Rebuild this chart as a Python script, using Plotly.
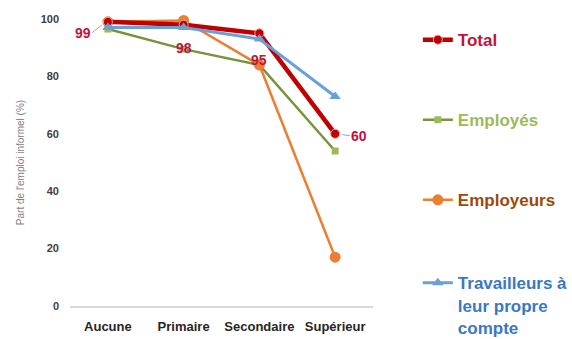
import plotly.graph_objects as go

# Niveau d'instruction
categories = ["Aucune", "Primaire", "Secondaire", "Supérieur"]

# Part de l'emploi informel (%) par statut
total = [99, 98, 95, 60]
employes = [96.5, 89.5, 84, 54]
employeurs = [99, 99.5, 84, 17]
travailleurs = [97, 97, 93, 73]

y_ticks = [0, 20, 40, 60, 80, 100]

RED = "#C00000"
RED_TXT = "#C0143C"
GREEN_LINE = "#77933C"
GREEN_MARK = "#9BBB59"
ORANGE = "#ED7D31"
BLUE = "#6A9FD8"

FONT = "Liberation Sans"

fig = go.Figure()

fig.add_trace(go.Scatter(
    x=categories, y=employes, mode="lines+markers",
    name="<span style='color:#9BBB59'>Employés</span>",
    line=dict(color=GREEN_LINE, width=2.5),
    marker=dict(symbol="square", size=7, color=GREEN_MARK),
    legend="legend2", cliponaxis=False,
))
fig.add_trace(go.Scatter(
    x=categories, y=employeurs, mode="lines+markers",
    name="<span style='color:#9E480E'>Employeurs</span>",
    line=dict(color=ORANGE, width=2.5),
    marker=dict(symbol="circle", size=11, color=ORANGE),
    legend="legend3", cliponaxis=False,
))
fig.add_trace(go.Scatter(
    x=categories, y=total, mode="lines+markers",
    name="<span style='color:#C0143C'>Total</span>",
    line=dict(color=RED, width=4.5),
    marker=dict(symbol="circle", size=9, color=RED,
                line=dict(color="#E8A0A0", width=1)),
    legend="legend", cliponaxis=False,
))
fig.add_trace(go.Scatter(
    x=categories, y=travailleurs, mode="lines+markers",
    name="<span style='color:#3A78C2'>Travailleurs à<br>leur propre<br>compte</span>",
    line=dict(color=BLUE, width=3),
    marker=dict(symbol="triangle-up", size=10, color=BLUE),
    legend="legend4", cliponaxis=False,
))

# Étiquettes de données de la série Total
label_offsets = [(-14, 11), (0, 14), (0, 18), (13, 2)]
for cat, val, (ax, ay) in zip(categories, total, label_offsets):
    leader = ax != 0
    fig.add_annotation(
        x=cat, y=val, text=f"<b>{val}</b>",
        showarrow=True, arrowhead=0, arrowwidth=1,
        arrowcolor="#A6A6A6" if leader else "rgba(0,0,0,0)",
        ax=ax, ay=ay, standoff=5 if leader else 0,
        font=dict(family=FONT, size=14, color=RED_TXT),
        xanchor="right" if ax < 0 else ("left" if ax > 0 else "center"),
        yanchor="middle" if leader else "top",
        xshift=-2 if ax < 0 else (2 if ax > 0 else 0),
        borderpad=0,
    )


def legend_box(y_top):
    return dict(
        x=1.148, y=y_top, xanchor="left", yanchor="top",
        font=dict(family=FONT, size=17, weight="bold"),
        valign="top", itemwidth=30, bgcolor="rgba(0,0,0,0)",
    )


fig.update_layout(
    width=572, height=339,
    margin=dict(l=70, r=199, t=19, b=33, autoexpand=False),
    plot_bgcolor="white", paper_bgcolor="white",
    font=dict(family=FONT, color="#404040"),
    showlegend=True,
    legend=legend_box(0.989),
    legend2=legend_box(0.710),
    legend3=legend_box(0.431),
    legend4=legend_box(0.142),
    xaxis=dict(
        showgrid=False, showline=True, linecolor="#D9D9D9", linewidth=1.5,
        ticks="", tickfont=dict(family=FONT, size=13, color="#262626", weight="bold"),
        ticklabelstandoff=8,
        range=[-0.5, 3.5],
    ),
    yaxis=dict(
        range=[0, 100], tickvals=y_ticks, showgrid=False, zeroline=False,
        showline=False, ticks="",
        tickfont=dict(family=FONT, size=11, color="#404040", weight="bold"),
        ticklabelstandoff=10,
        title=dict(text="Part de l'emploi informel (%)",
                   font=dict(family=FONT, size=10, color="#7F7F7F"),
                   standoff=14),
    ),
)

fig.write_html("out.html")
